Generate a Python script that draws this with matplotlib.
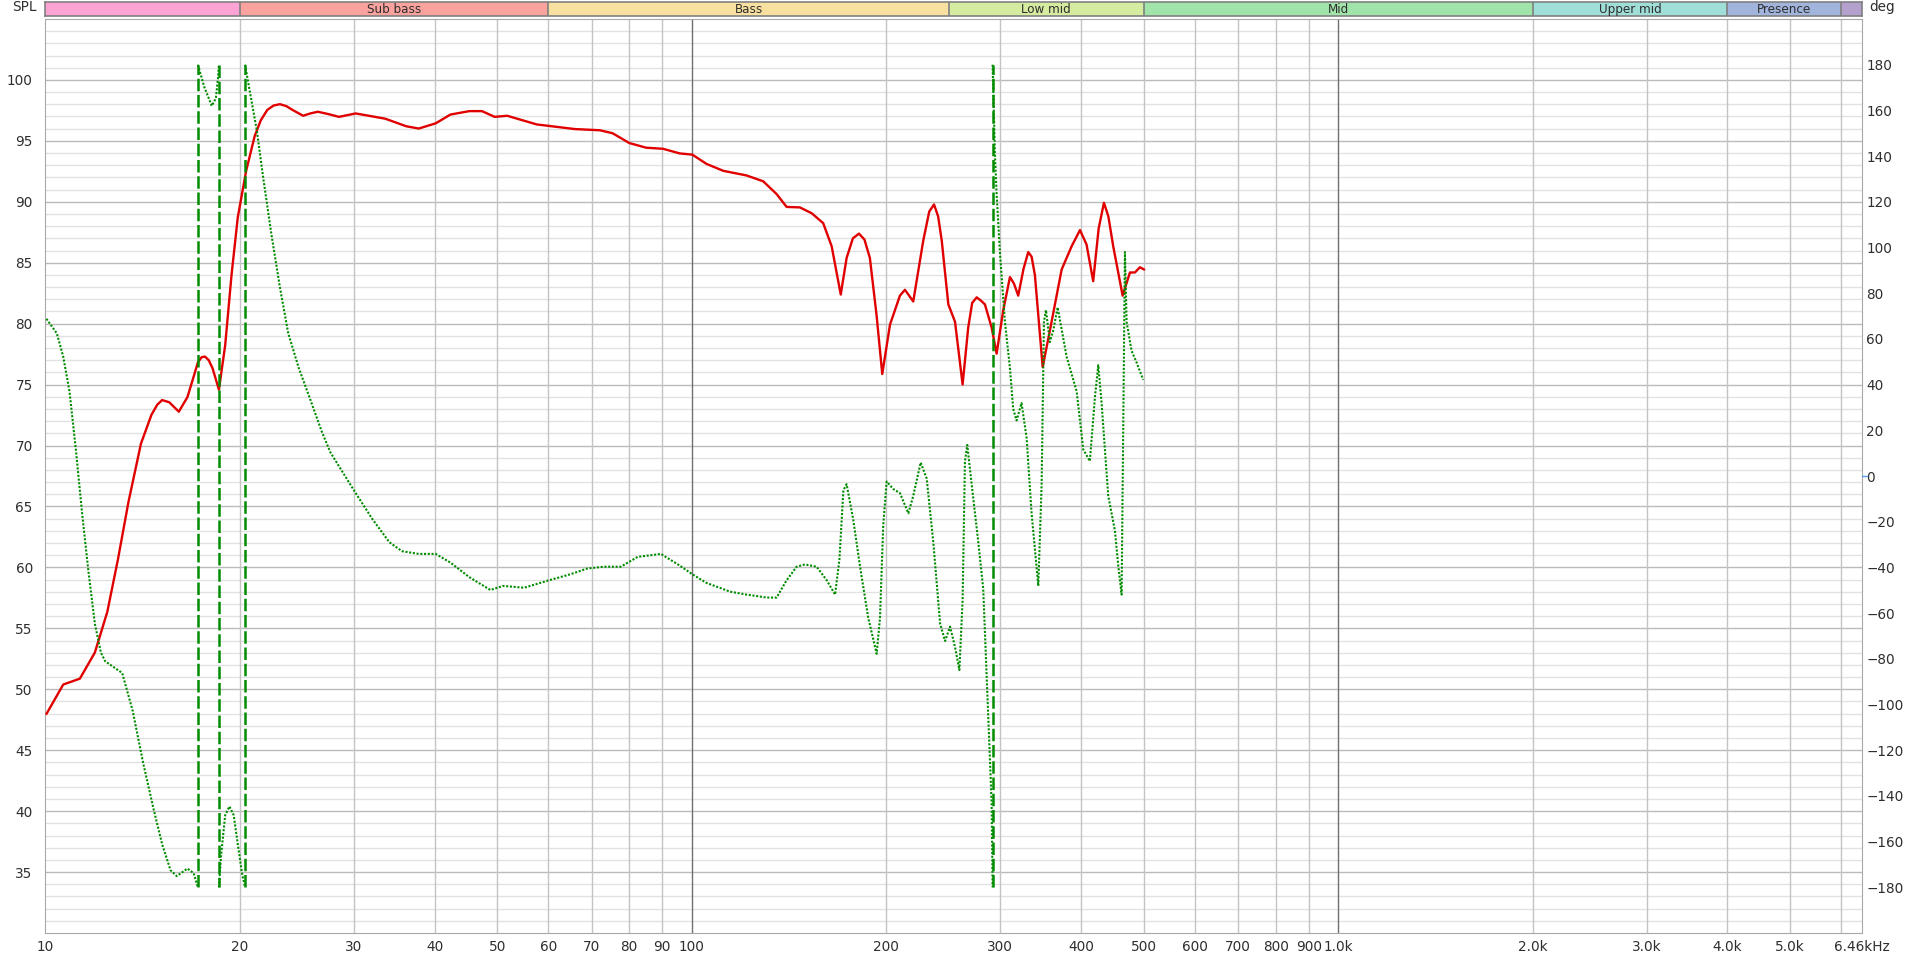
import numpy as np
import matplotlib
matplotlib.use('Agg')
import matplotlib.pyplot as plt

# 幅频 SPL 曲线 (Hz, dB)
spl_freq = [10.04, 10.66, 11.31, 11.93, 12.47, 12.95, 13.45, 14.06, 14.60, 14.90, 15.16,
            15.55, 16.09, 16.59, 16.95, 17.22, 17.45, 17.66, 17.90, 18.14, 18.56, 18.98,
            19.41, 19.85, 20.45, 21.08, 21.55, 22.05, 22.55, 23.06, 23.60, 24.12, 25.05,
            25.70, 26.40, 27.40, 28.46, 30.21, 33.56, 36.16, 37.82, 40.17, 42.34, 45.29,
            47.37, 49.55, 51.82, 57.55, 65.89, 72.07, 75.40, 80.07, 84.99, 90.27, 95.8,
            100.2, 105.4, 111.9, 121.6, 129.0, 135.3, 140.2, 147.0, 153.3, 159.7, 164.6,
            170.0, 173.6, 177.5, 181.4, 185.0, 188.6, 193.2, 197.1, 202.6, 209.9, 213.7,
            220.1, 228.1, 233.0, 237.0, 240.5, 243.6, 249.4, 255.4, 262.4, 267.7, 271.5,
            275.9, 280.0, 284.1, 291.0, 296.2, 303.3, 310.6, 315.0, 319.9, 326.0, 331.5,
            335.5, 339.5, 349.0, 358.1, 373.4, 386.9, 398.6, 408.0, 417.8, 426.0, 434.1,
            441.0, 448.7, 464.0, 476.2, 484.8, 493.5, 501.0]
spl_db = [47.97, 50.39, 50.87, 53.01, 56.34, 60.63, 65.39, 70.16, 72.54, 73.35, 73.73,
          73.55, 72.78, 73.97, 75.60, 76.82, 77.25, 77.30, 77.00, 76.35, 74.58, 78.25,
          83.97, 88.73, 92.54, 95.39, 96.70, 97.54, 97.90, 98.01, 97.85, 97.54, 97.06,
          97.25, 97.39, 97.20, 96.97, 97.25, 96.82, 96.20, 96.01, 96.44, 97.16, 97.44,
          97.44, 96.97, 97.06, 96.35, 95.97, 95.87, 95.63, 94.82, 94.44, 94.35, 93.97,
          93.87, 93.11, 92.54, 92.16, 91.68, 90.63, 89.58, 89.54, 89.06, 88.25, 86.35,
          82.39, 85.39, 87.00, 87.39, 86.90, 85.39, 80.63, 75.87, 79.92, 82.30, 82.78,
          81.82, 86.82, 89.20, 89.78, 88.80, 86.82, 81.58, 80.16, 75.01, 79.68, 81.70,
          82.16, 81.90, 81.58, 79.68, 77.54, 81.11, 83.82, 83.30, 82.30, 84.50, 85.87,
          85.50, 83.97, 76.44, 79.44, 84.44, 86.35, 87.68, 86.50, 83.49, 87.80, 89.92,
          88.80, 86.35, 82.30, 84.20, 84.20, 84.63, 84.44]

# 相位曲线 (Hz, deg)，±180 处卷绕
phase_freq = [10.04, 10.42, 10.66, 10.90, 11.15, 11.40, 11.66, 11.93, 12.19, 12.38,
              13.15, 13.65, 14.17, 14.71, 15.16, 15.62, 15.97, 16.59, 16.96, 17.22,
              17.22, 17.61, 18.09, 18.36, 18.50, 18.56,
              18.56, 18.70, 18.98, 19.27, 19.56, 19.85, 20.15, 20.37,
              20.37, 20.77, 21.24, 21.72, 22.38, 23.06, 23.76, 24.67, 25.62, 26.79,
              27.61, 28.88, 30.21, 32.07, 34.06, 35.62, 37.82, 40.17, 42.34, 45.29,
              48.82, 51.05, 55.03, 60.21, 64.90, 68.90, 73.14, 77.68, 82.48, 89.60,
              95.8, 100.2, 105.4, 114.6, 121.6, 130.6, 135.3, 140.2, 145.3, 149.6,
              156.0, 161.7, 166.6, 169.2, 171.6, 173.6, 177.7, 182.0, 187.5, 193.2,
              195.5, 197.8, 200.2, 205.0, 209.9, 216.3, 220.1, 226.0, 230.9, 236.4,
              242.2, 246.5, 250.9, 255.4, 259.4, 262.4, 264.6, 266.8, 271.0, 277.5,
              282.4, 287.5, 291.0, 292.0,
              292.0, 294.4, 296.2, 299.7, 305.1, 310.6, 314.2, 318.0, 323.7, 329.6,
              335.5, 343.6, 347.7, 350.6, 353.1, 358.1, 362.4, 368.1, 380.1, 393.9,
              403.3, 412.9, 420.4, 425.4, 430.5, 440.8, 451.4, 456.8, 462.3, 465.0,
              467.8, 470.6, 479.0, 487.6, 499.3]
phase_deg = [68.8, 62.4, 52.2, 37.0, 11.6, -16.3, -41.7, -64.6, -77.3, -81.1,
             -86.2, -102.7, -125.6, -145.9, -161.1, -172.5, -175.1, -171.8, -173.8, -180,
             180, 170.4, 162.0, 165.3, 174.2, 180,
             -180, -166.2, -148.4, -144.6, -148.4, -161.1, -173.8, -180,
             180, 166.6, 151.3, 131.0, 105.6, 82.7, 62.4, 47.2, 34.5, 19.2,
             10.3, 1.4, -7.5, -18.9, -29.0, -32.9, -34.1, -34.1, -37.9, -44.3,
             -49.9, -48.1, -48.9, -45.6, -43.0, -40.5, -39.7, -39.7, -35.4, -34.1,
             -39.2, -43.0, -46.8, -50.6, -51.9, -53.2, -53.2, -45.6, -39.7, -38.7,
             -39.7, -45.6, -51.9, -36.7, -6.2, -3.6, -18.9, -39.2, -62.1, -77.8,
             -62.1, -21.4, -2.4, -5.7, -7.5, -16.3, -8.7, 5.9, -1.1, -29.0,
             -64.6, -72.2, -65.9, -74.8, -84.9, -54.4, 6.5, 13.6, -3.6, -29.0,
             -49.4, -105.2, -143.3, -180,
             180, 141.1, 123.4, 98.0, 67.5, 47.2, 29.4, 24.3, 31.9, 16.7,
             -16.3, -48.1, -3.6, 67.5, 72.6, 58.6, 63.7, 73.8, 52.2, 37.0,
             11.6, 6.5, 34.5, 48.5, 31.9, -8.7, -23.9, -39.2, -51.9, 21.8,
             98.0, 67.5, 54.8, 49.7, 42.1]

# 频段色带
band_edges = [10, 20, 60, 250, 500, 2000, 4000, 6000, 6460]
band_names = ['', 'Sub bass', 'Bass', 'Low mid', 'Mid', 'Upper mid', 'Presence', '']
band_colors = ['#FFA3D4', '#FAA29E', '#F8E0A0', '#D4EBA0', '#A0E4AA', '#A0DED8', '#A0B4DC', '#B4A0CC']

x_ticks = [10, 20, 30, 40, 50, 60, 70, 80, 90, 100, 200, 300, 400, 500, 600, 700, 800, 900,
           1000, 2000, 3000, 4000, 5000, 6000, 6460]
x_labels = ['10', '20', '30', '40', '50', '60', '70', '80', '90', '100', '200', '300', '400',
            '500', '600', '700', '800', '900', '1.0k', '2.0k', '3.0k', '4.0k', '5.0k', '', '6.46kHz']
spl_ticks = list(range(35, 101, 5))
deg_ticks = list(range(-180, 181, 20))

plt.rcParams['font.family'] = ['DejaVu Sans']
txt_col = '#2E2E2E'

fig = plt.figure(figsize=(19.2, 9.59), dpi=100)
L, W = 45.3 / 1920, (1862 - 45.3) / 1920
ax = fig.add_axes([L, 26 / 959, W, 914 / 959])
ax.set_xscale('log')
ax.set_xlim(10, 6460)
ax.set_ylim(30, 105)

# 网格
for f in x_ticks[1:-1]:
    c = '#707070' if f in (100, 1000) else '#C4C4C4'
    ax.axvline(f, color=c, lw=1.0, zorder=1)
for v in range(31, 105):
    c = '#BBBBBB' if v % 5 == 0 else '#E2E2E2'
    ax.axhline(v, color=c, lw=1.0, zorder=0.5)

ax.set_xticks(x_ticks)
ax.set_xticklabels(x_labels)
ax.xaxis.set_minor_locator(matplotlib.ticker.NullLocator())
ax.set_yticks(spl_ticks)
ax.tick_params(axis='both', length=0, labelsize=9.8, colors=txt_col)
ax.tick_params(axis='x', pad=5)
ax.tick_params(axis='y', pad=9)
for s in ax.spines.values():
    s.set_color('#A8A8A8')

ax.plot(spl_freq, spl_db, color='#E00000', lw=1.7, zorder=3,
        solid_joinstyle='round', solid_capstyle='round')

ax2 = ax.twinx()
ax2.set_ylim(-200, 200)
ax2.set_yticks(deg_ticks)
ax2.tick_params(axis='y', length=0, labelsize=9.8, colors=txt_col, pad=3)
for s in ax2.spines.values():
    s.set_visible(False)
ax2.plot([1.0, 1.003], [0, 0], transform=ax2.get_yaxis_transform(), clip_on=False,
         color='#5A9AF0', lw=1.0)

ph_f = np.array(phase_freq)
ph_d = np.array(phase_deg)
jumps = np.where(np.abs(np.diff(ph_d)) > 300)[0]
starts = np.concatenate([[0], jumps + 1])
ends = np.concatenate([jumps + 1, [len(ph_f)]])
for a, b in zip(starts, ends):
    ax2.plot(ph_f[a:b], ph_d[a:b], color='#008C00', lw=1.5, linestyle=(0, (1, 0.8)), zorder=4)
for j in jumps:
    ax2.plot(ph_f[j:j + 2], ph_d[j:j + 2], color='#008C00', lw=1.8,
             linestyle=(0, (5, 1.5)), zorder=4)

# 顶部色带
axb = fig.add_axes([L, 1 - 16 / 959, W, 14 / 959])
axb.set_xscale('log')
axb.set_xlim(10, 6460)
axb.set_ylim(0, 1)
for i in range(len(band_names)):
    lo, hi = band_edges[i], band_edges[i + 1]
    axb.axvspan(lo, hi, color=band_colors[i], lw=0)
    if i > 0:
        axb.axvline(lo, color='#808080', lw=1.2)
    if band_names[i]:
        axb.text(np.sqrt(lo * hi), 0.45, band_names[i], ha='center', va='center',
                 fontsize=9.5, color=txt_col, fontstretch='condensed')
axb.set_xticks([])
axb.set_yticks([])
axb.xaxis.set_minor_locator(matplotlib.ticker.NullLocator())
for s in axb.spines.values():
    s.set_color('#808080')
    s.set_linewidth(1.2)

fig.text(37 / 1920, 1 - 7 / 959, 'SPL', ha='right', va='center', fontsize=9.8, color=txt_col)
fig.text(1869 / 1920, 1 - 7 / 959, 'deg', ha='left', va='center', fontsize=9.8, color=txt_col)

fig.savefig('out.png', dpi=100)
